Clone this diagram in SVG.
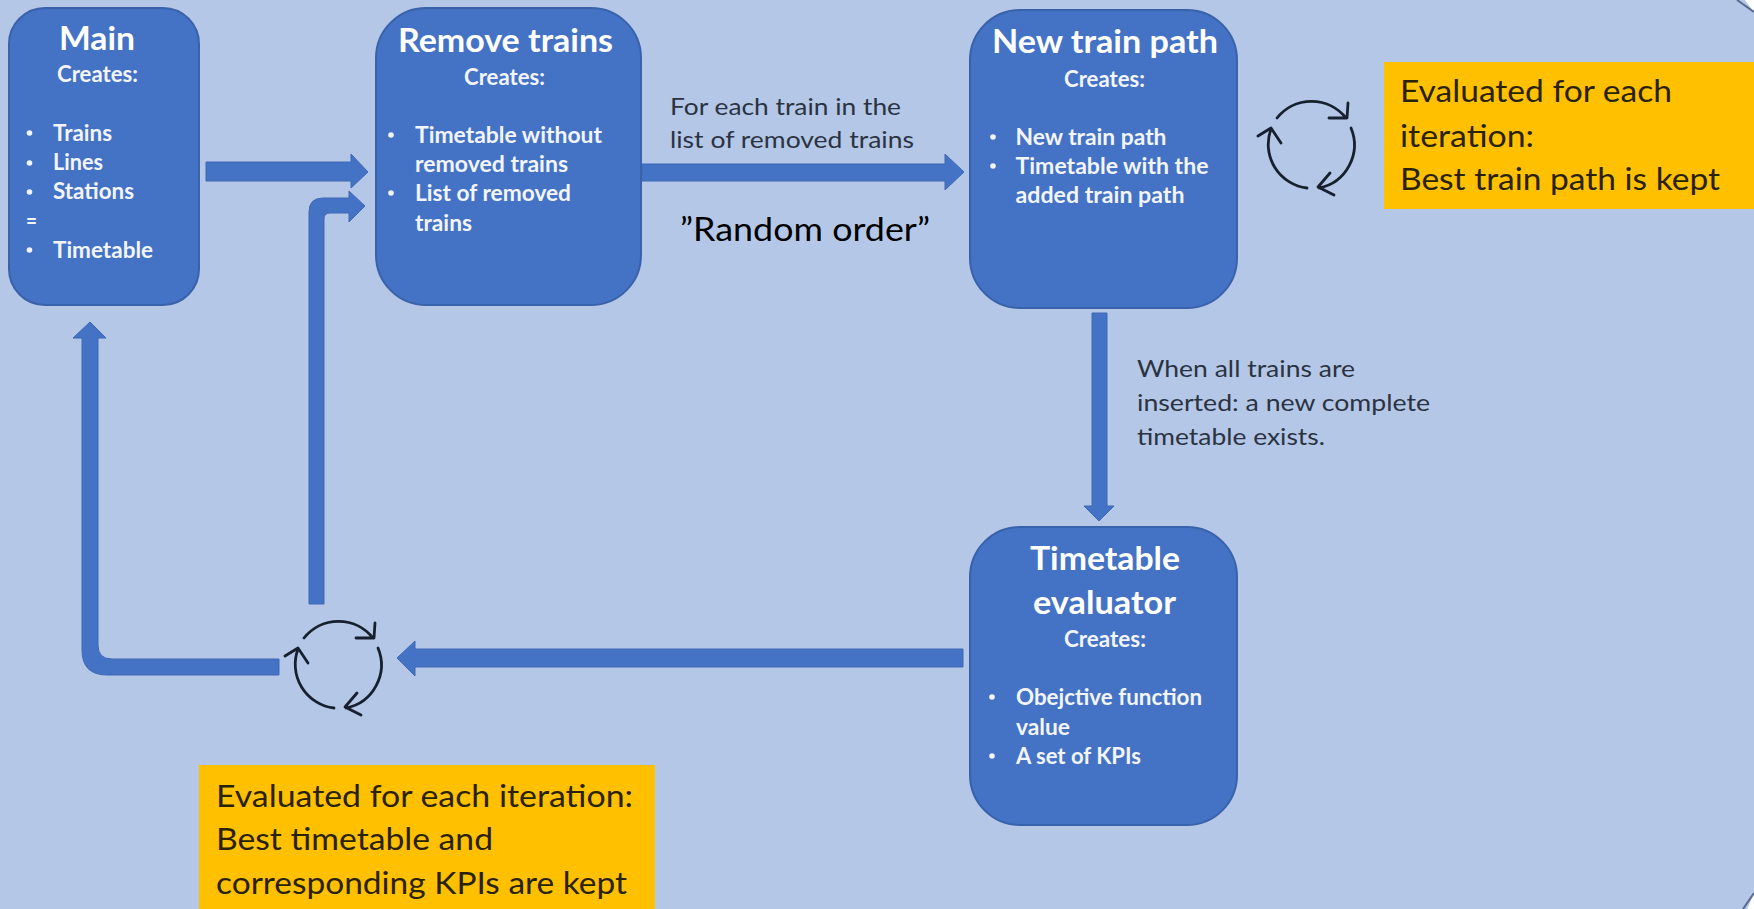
<svg xmlns="http://www.w3.org/2000/svg" xmlns:xlink="http://www.w3.org/1999/xlink" width="1754" height="909" viewBox="0 0 1754 909">
<style>
text{font-family:Lato,"Noto Sans","Liberation Sans",sans-serif}
.box{fill:#4472C4;stroke:#3A62AA;stroke-width:2}
.arrow{fill:#4472C4;stroke:#3F69B6;stroke-width:1}
.note{fill:#FFC000}
.title{font-size:32px;font-weight:700;fill:#fff}
.sub{font-size:23px;font-weight:700;fill:#F2F5FB}
.item{font-size:23px;font-weight:700;fill:#F2F5FB}
.label{font-size:23.5px;fill:#2B3342}
.big{font-size:32px;fill:#000}
.noteText{font-size:31px;fill:#2A2205}
.cycle{fill:none;stroke:#17202E;stroke-width:2.8;stroke-linecap:round;stroke-linejoin:round}
.dot{fill:#F2F5FB}
</style>
<defs>
<g id="cycle" class="cycle">
<path d="M1277 118A44 44 0 0 1 1346 118M1329 118L1347 118L1348 103"/>
<path d="M1351 128A44 44 0 0 1 1319 188M1334 195L1318 187L1330 173"/>
<path d="M1307 188A44 44 0 0 1 1271 129M1258 136L1271 128L1281 143"/>
</g>
</defs>
<rect width="1754" height="909" fill="#fff"/>
<path id="panel" d="M-10 -10H1737L1754 12V893L1743 919H-10Z" fill="#B4C7E7"/>
<path d="M1737 0L1754 12M1743 909L1754 893" fill="none" stroke="#5A6A90" stroke-width="2"/>

<g id="connectors">
<path class="arrow" d="M206 162H351V154L368 172L351 188V181H206Z"/>
<path class="arrow" d="M309 604V212Q309 198 323 198H349V191L365 206L349 222V213H330Q324 213 324 219V604Z"/>
<path class="arrow" d="M642 164H945V154L964 172L945 190V181H642Z"/>
<path class="arrow" d="M1092 313H1107V506H1114L1099 521L1084 506H1092Z"/>
<path class="arrow" d="M963 649V667H415V676L397 658L415 641V649Z"/>
<path class="arrow" d="M279 659V675H107Q82 675 82 650V338H73L90 322L106 338H98V645Q98 659 112 659Z"/>
</g>

<g id="node-main">
<rect class="box" x="9" y="8" width="190" height="297" rx="36"/>
<text class="title" x="59" y="50" textLength="76" lengthAdjust="spacingAndGlyphs">Main</text>
<text class="sub" x="57" y="82" textLength="81" lengthAdjust="spacingAndGlyphs">Creates:</text>
<circle class="dot" cx="29.500" cy="133" r="2.800"/>
<circle class="dot" cx="29.500" cy="163" r="2.800"/>
<circle class="dot" cx="29.500" cy="192" r="2.800"/>
<circle class="dot" cx="29.500" cy="250" r="2.800"/>
<text class="item" x="53" y="141" textLength="59" lengthAdjust="spacingAndGlyphs">Trains</text>
<text class="item" x="53" y="170" textLength="50" lengthAdjust="spacingAndGlyphs">Lines</text>
<text class="item" x="53" y="199" textLength="81" lengthAdjust="spacingAndGlyphs">Stations</text>
<text class="item" x="26" y="229" textLength="11" lengthAdjust="spacingAndGlyphs">=</text>
<text class="item" x="53" y="258" textLength="100" lengthAdjust="spacingAndGlyphs">Timetable</text>
</g>

<g id="node-remove">
<rect class="box" x="376" y="8" width="265" height="297" rx="50"/>
<text class="title" x="398" y="52" textLength="215" lengthAdjust="spacingAndGlyphs">Remove trains</text>
<text class="sub" x="464" y="85" textLength="81" lengthAdjust="spacingAndGlyphs">Creates:</text>
<circle class="dot" cx="391" cy="135" r="2.800"/>
<circle class="dot" cx="391" cy="193" r="2.800"/>
<text class="item" x="415" y="143" textLength="187" lengthAdjust="spacingAndGlyphs">Timetable without</text>
<text class="item" x="415" y="172" textLength="153" lengthAdjust="spacingAndGlyphs">removed trains</text>
<text class="item" x="415" y="201" textLength="156" lengthAdjust="spacingAndGlyphs">List of removed</text>
<text class="item" x="415" y="231" textLength="57" lengthAdjust="spacingAndGlyphs">trains</text>
</g>

<g id="label-each">
<text class="label" x="670" y="115" textLength="231" lengthAdjust="spacingAndGlyphs">For each train in the</text>
<text class="label" x="670" y="148" textLength="244" lengthAdjust="spacingAndGlyphs">list of removed trains</text>
<text class="big" x="680" y="241" textLength="250" lengthAdjust="spacingAndGlyphs">”Random order”</text>
</g>

<g id="node-newpath">
<rect class="box" x="970" y="10" width="267" height="298" rx="50"/>
<text class="title" x="992" y="53" textLength="226" lengthAdjust="spacingAndGlyphs">New train path</text>
<text class="sub" x="1064" y="87" textLength="81" lengthAdjust="spacingAndGlyphs">Creates:</text>
<circle class="dot" cx="993" cy="137" r="2.800"/>
<circle class="dot" cx="993" cy="166" r="2.800"/>
<text class="item" x="1015.500" y="145" textLength="151" lengthAdjust="spacingAndGlyphs">New train path</text>
<text class="item" x="1015.500" y="174" textLength="193" lengthAdjust="spacingAndGlyphs">Timetable with the</text>
<text class="item" x="1015.500" y="203" textLength="169" lengthAdjust="spacingAndGlyphs">added train path</text>
</g>

<g id="label-inserted">
<text class="label" x="1137" y="377" textLength="218" lengthAdjust="spacingAndGlyphs">When all trains are</text>
<text class="label" x="1137" y="411" textLength="293" lengthAdjust="spacingAndGlyphs">inserted: a new complete</text>
<text class="label" x="1137" y="445" textLength="188" lengthAdjust="spacingAndGlyphs">timetable exists.</text>
</g>

<g id="node-evaluator">
<rect class="box" x="970" y="527" width="267" height="298" rx="50"/>
<text class="title" x="1030" y="570" textLength="150" lengthAdjust="spacingAndGlyphs">Timetable</text>
<text class="title" x="1033" y="614" textLength="143" lengthAdjust="spacingAndGlyphs">evaluator</text>
<text class="sub" x="1064" y="647" textLength="82" lengthAdjust="spacingAndGlyphs">Creates:</text>
<circle class="dot" cx="992" cy="697" r="2.800"/>
<circle class="dot" cx="992" cy="756" r="2.800"/>
<text class="item" x="1016" y="705" textLength="186" lengthAdjust="spacingAndGlyphs">Obejctive function</text>
<text class="item" x="1016" y="735" textLength="54" lengthAdjust="spacingAndGlyphs">value</text>
<text class="item" x="1016" y="764" textLength="125" lengthAdjust="spacingAndGlyphs">A set of KPIs</text>
</g>

<g id="cycle-top"><use href="#cycle" xlink:href="#cycle"/></g>
<g id="cycle-bottom"><use href="#cycle" xlink:href="#cycle" transform="translate(-973 520)"/></g>

<g id="note-top">
<rect class="note" x="1384" y="62" width="370" height="147"/>
<text class="noteText" x="1400" y="102" textLength="272" lengthAdjust="spacingAndGlyphs">Evaluated for each</text>
<text class="noteText" x="1400" y="147" textLength="134" lengthAdjust="spacingAndGlyphs">iteration:</text>
<text class="noteText" x="1400" y="190" textLength="320" lengthAdjust="spacingAndGlyphs">Best train path is kept</text>
</g>

<g id="note-bottom">
<rect class="note" x="199" y="765" width="456" height="144"/>
<text class="noteText" x="216" y="807" textLength="417" lengthAdjust="spacingAndGlyphs">Evaluated for each iteration:</text>
<text class="noteText" x="216" y="850" textLength="277" lengthAdjust="spacingAndGlyphs">Best timetable and</text>
<text class="noteText" x="216" y="894" textLength="411" lengthAdjust="spacingAndGlyphs">corresponding KPIs are kept</text>
</g>
</svg>
